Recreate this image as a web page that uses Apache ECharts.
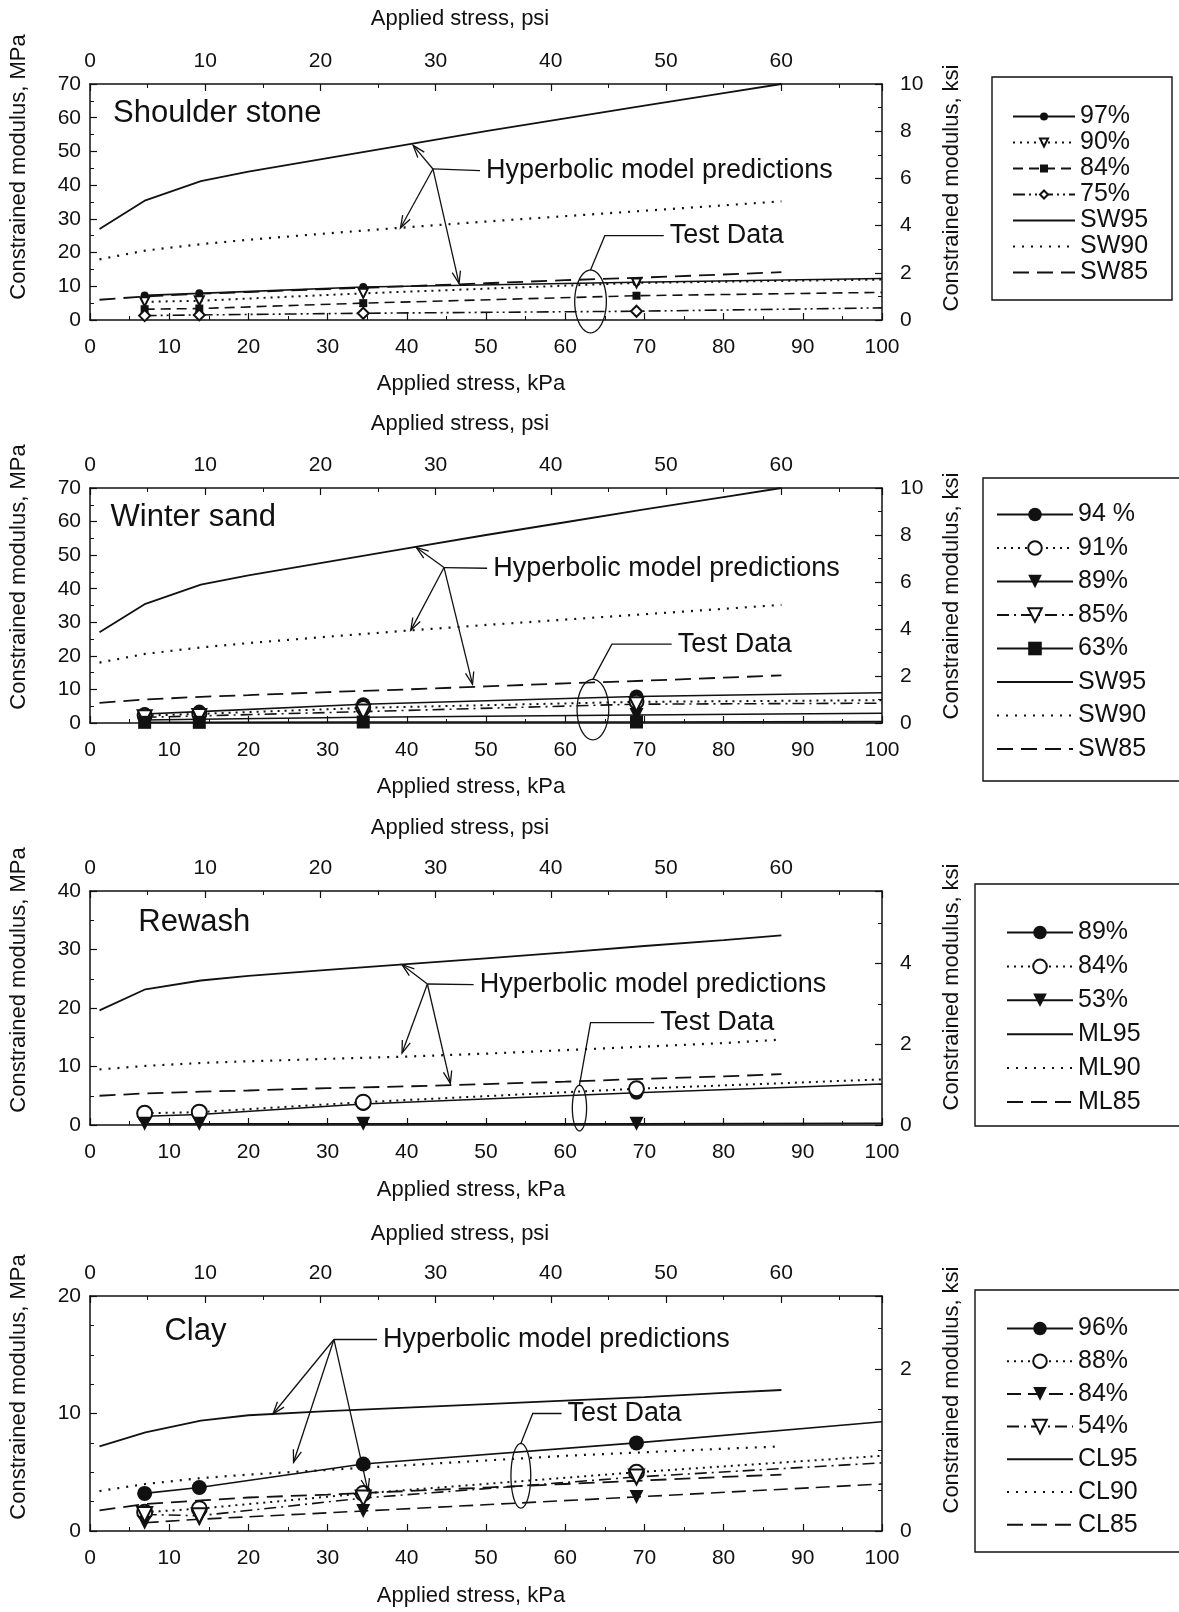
<!DOCTYPE html>
<html><head><meta charset="utf-8">
<script src="https://cdn.jsdelivr.net/npm/echarts@6/dist/echarts.min.js"></script>
<style>html,body{margin:0;padding:0;background:#fff}#c{width:1179px;height:1612px}</style>
</head><body><div id="c"></div>
<script>
// ---------------- DATA ----------------
const testX = [6.9, 13.8, 34.5, 69, 100];           // applied stress, kPa (last = end of drawn trend line)
const modelX = [1.2, 7, 14, 20, 30, 40, 50, 60, 70, 80, 87.3];

// Panel 1 – Shoulder stone
const ss97 = [7.3, 7.9, 9.8, 11.2, 12.3];
const ss90 = [5.4, 5.7, 7.9, 11.0, 12.0];
const ss84 = [3.2, 3.4, 5.0, 7.2, 8.2];
const ss75 = [1.3, 1.5, 2.0, 2.6, 3.6];
const SW95 = [27, 35.5, 41.2, 44, 48, 52, 56, 59.8, 63.6, 67.3, 70];
const SW90 = [18, 20.6, 22.5, 23.8, 25.7, 27.5, 29.2, 30.8, 32.4, 34, 35.2];
const SW85 = [6, 7, 7.8, 8.3, 9.2, 10, 10.9, 11.8, 12.6, 13.5, 14.2];
// Panel 2 – Winter sand
const ws94 = [2.7, 3.4, 5.6, 7.9, 9.0];
const ws91 = [2.2, 2.7, 4.5, 6.3, 6.8];
const ws89 = [0.9, 1.1, 1.7, 2.4, 2.9];
const ws85 = [1.7, 2.1, 3.4, 5.6, 5.9];
const ws63 = [0.2, 0.2, 0.3, 0.3, 0.4];
// Panel 3 – Rewash
const rw89 = [1.5, 1.8, 3.6, 5.5, 7.0];
const rw84 = [2.0, 2.2, 3.9, 6.2, 7.8];
const rw53 = [0.2, 0.2, 0.2, 0.2, 0.3];
const ML95 = [19.6, 23.2, 24.7, 25.5, 26.5, 27.5, 28.5, 29.5, 30.6, 31.6, 32.4];
const ML90 = [9.5, 10.1, 10.6, 10.9, 11.3, 11.7, 12.2, 12.8, 13.4, 14, 14.6];
const ML85 = [5.0, 5.4, 5.7, 5.9, 6.3, 6.6, 7.0, 7.4, 7.9, 8.3, 8.7];
// Panel 4 – Clay
const cl96 = [3.2, 3.7, 5.7, 7.5, 9.3];
const cl88 = [1.6, 1.9, 3.2, 5.0, 6.4];
const cl84 = [0.7, 1.0, 1.7, 2.9, 4.0];
const cl54 = [1.4, 1.3, 2.8, 4.6, 5.8];
const CL95 = [7.2, 8.4, 9.4, 9.85, 10.2, 10.5, 10.8, 11.1, 11.4, 11.75, 12.0];
const CL90 = [3.4, 4.0, 4.5, 4.8, 5.2, 5.6, 6.0, 6.4, 6.7, 7.0, 7.2];
const CL85 = [1.75, 2.3, 2.6, 2.85, 3.1, 3.4, 3.7, 4.0, 4.3, 4.6, 4.8];

// tick labels
const kPaTicks = [0, 10, 20, 30, 40, 50, 60, 70, 80, 90, 100];
const psiTicks = [0, 10, 20, 30, 40, 50, 60];
const psiMax = 68.75;
const mpaTicks = [[0,10,20,30,40,50,60,70],[0,10,20,30,40,50,60,70],[0,10,20,30,40],[0,10,20]];
const ksiTicks = [[0,2,4,6,8,10],[0,2,4,6,8,10],[0,2,4],[0,2]];
const ksiMax = [10, 10, 5.8, 2.9];

// annotations (data coordinates: kPa, MPa)
const panelTitles = [['Shoulder stone', 2.9, 61.3], ['Winter sand', 2.6, 61.1], ['Rewash', 6.1, 34.7], ['Clay', 9.4, 17.0]];
const hypNotes = [
  {text:[50.0, 44.3], from:[43.3, 44.8], to:[[40.8, 51.8], [39.2, 27.3], [46.6, 10.8]]},
  {text:[50.9, 46.1], from:[44.7, 46.3], to:[[41.2, 52.3], [40.5, 27.6], [48.3, 11.5]]},
  {text:[49.2, 24.0], from:[42.6, 24.1], to:[[39.4, 27.4], [39.4, 12.3], [45.5, 7.1]]},
  {text:[37.0, 16.3], from:[30.8, 16.3], to:[[23.1, 9.96], [25.7, 5.85], [35.1, 3.4]]}
];
const testNotes = [
  {text:[73.2, 25.0], bend:[65.0, 25.0], ellipse:[63.2, 5.5, 2.0, 9.3]},
  {text:[74.2, 23.5], bend:[65.9, 23.5], ellipse:[63.5, 4.0, 2.0, 9.0]},
  {text:[72.0, 17.5], bend:[63.2, 17.5], ellipse:[61.8, 2.9, 0.9, 3.9]},
  {text:[60.3, 10.0], bend:[55.9, 10.0], ellipse:[54.4, 4.7, 1.25, 2.75]}
];

// ---------------- STYLE / LAYOUT ----------------
const FONT = '"Liberation Sans", Arial, Helvetica, sans-serif';
const INK = '#111';
const DASH = [16, 8];
const DASH_S = [10, 6];
const DDOT = [12, 4, 2, 4, 2, 4];
const DDOT1 = [12, 5, 2, 5];
const gridTops = [84, 488, 891, 1296];
const gridH = [236, 235, 234, 235];
const GL = 90, GR = 297;

const chart = echarts.init(document.getElementById('c'), null, {renderer: 'canvas'});

const grids = [], xAxes = [], yAxes = [], series = [], legends = [];
const lbl = {color: INK, fontSize: 21, fontFamily: FONT};
const axLine = {show: true, onZero: false, lineStyle: {color: INK, width: 1.5}};
function ticks(len) { return {show: true, inside: true, length: len, lineStyle: {color: INK, width: 1.2}}; }
function minor(n) { return {show: true, splitNumber: n, length: 4, lineStyle: {color: INK, width: 1}}; }

for (let g = 0; g < 4; g++) {
  grids.push({left: GL, right: GR, top: gridTops[g], height: gridH[g], containLabel: false});
  xAxes.push({gridIndex: g, type: 'value', position: 'bottom', min: kPaTicks[0], max: kPaTicks[kPaTicks.length-1],
    interval: kPaTicks[1]-kPaTicks[0], axisLine: axLine, axisTick: ticks(7),
    minorTick: minor(2), splitLine: {show: false}, axisLabel: Object.assign({margin: 17}, lbl)});
  xAxes.push({gridIndex: g, type: 'value', position: 'top', min: psiTicks[0], max: psiMax,
    interval: psiTicks[1]-psiTicks[0], axisLine: axLine, axisTick: ticks(7),
    minorTick: minor(2), splitLine: {show: false}, axisLabel: Object.assign({margin: 12, showMaxLabel: false}, lbl)});
  const mt = mpaTicks[g];
  yAxes.push({gridIndex: g, type: 'value', position: 'left', min: mt[0], max: mt[mt.length-1], interval: mt[1]-mt[0],
    axisLine: axLine, axisTick: ticks(7),
    minorTick: minor(g === 3 ? 4 : 2), splitLine: {show: false}, axisLabel: Object.assign({margin: 9}, lbl)});
  const kt = ksiTicks[g];
  yAxes.push({gridIndex: g, type: 'value', position: 'right', min: kt[0], max: ksiMax[g], interval: kt[1]-kt[0],
    axisLine: axLine, axisTick: ticks(7),
    minorTick: minor(g === 3 ? 4 : 2), splitLine: {show: false},
    axisLabel: Object.assign({margin: 18, showMaxLabel: g < 2}, lbl)});
}

function testSeries(g, name, vals, s) {
  return {
    type: 'line', name, xAxisIndex: 2*g, yAxisIndex: 2*g, z: 4, clip: false, silent: true,
    symbol: s.symbol, symbolSize: s.size, symbolRotate: s.rotate || 0, showSymbol: true,
    lineStyle: {color: INK, width: s.lw || 1.6, type: s.dash || 'solid'},
    itemStyle: {color: INK, borderWidth: s.symbol.indexOf('empty') === 0 ? 1.6 : 0, borderColor: INK},
    emphasis: {disabled: true},
    data: vals.map((v, i) => i === vals.length - 1 ? {value: [testX[i], v], symbol: 'none'} : [testX[i], v])
  };
}
function modelSeries(g, name, vals, dash, lw) {
  return {
    type: 'line', name, xAxisIndex: 2*g, yAxisIndex: 2*g, z: 3, silent: true,
    symbol: 'none', showSymbol: false,
    lineStyle: {color: INK, width: lw, type: dash},
    itemStyle: {color: INK}, emphasis: {disabled: true},
    data: vals.map((v, i) => [modelX[i], v])
  };
}

const panels = [
  {tests: [['97%', ss97, {symbol: 'circle', size: 8}],
           ['90%', ss90, {symbol: 'emptyTriangle', size: 9, rotate: 180, dash: [2, 5], lw: 2}],
           ['84%', ss84, {symbol: 'rect', size: 8, dash: DASH_S}],
           ['75%', ss75, {symbol: 'emptyDiamond', size: 11, dash: DDOT}]],
   models: [['SW95', SW95], ['SW90', SW90], ['SW85', SW85]]},
  {tests: [['94 %', ws94, {symbol: 'circle', size: 14}],
           ['91%', ws91, {symbol: 'emptyCircle', size: 14, dash: [2, 5], lw: 2}],
           ['89% ', ws89, {symbol: 'triangle', size: 14, rotate: 180}],
           ['85%', ws85, {symbol: 'emptyTriangle', size: 14, rotate: 180, dash: DDOT1}],
           ['63%', ws63, {symbol: 'rect', size: 13}]],
   models: [['SW95 ', SW95], ['SW90 ', SW90], ['SW85 ', SW85]]},
  {tests: [['89%', rw89, {symbol: 'circle', size: 14}],
           ['84% ', rw84, {symbol: 'emptyCircle', size: 15, dash: [2, 5], lw: 2}],
           ['53%', rw53, {symbol: 'triangle', size: 14, rotate: 180}]],
   models: [['ML95', ML95], ['ML90', ML90], ['ML85', ML85]]},
  {tests: [['96%', cl96, {symbol: 'circle', size: 15}],
           ['88%', cl88, {symbol: 'emptyCircle', size: 15, dash: [2, 5], lw: 2}],
           ['84%  ', cl84, {symbol: 'triangle', size: 14, rotate: 180, dash: [14, 7]}],
           ['54%', cl54, {symbol: 'emptyTriangle', size: 15, rotate: 180, dash: DDOT1}]],
   models: [['CL95', CL95], ['CL90', CL90], ['CL85', CL85]]}
];
const modelStyles = [['solid', 1.8], [[2, 7], 2.2], [DASH, 1.8]];

const legendLayout = [
  {left: 1012, top: 104, itemWidth: 62, itemHeight: 10, itemGap: 1.0},
  {left: 996, top: 502, itemWidth: 76, itemHeight: 17, itemGap: 8.5},
  {left: 1006, top: 920, itemWidth: 66, itemHeight: 17, itemGap: 8.9},
  {left: 1006, top: 1316, itemWidth: 66, itemHeight: 17, itemGap: 7.7}
];

function arrowHead(p, q, len) { // open V arrowhead at q, line from p
  const a = Math.atan2(q[1]-p[1], q[0]-p[0]);
  const s = 0.33;
  return [[q[0]-len*Math.cos(a-s), q[1]-len*Math.sin(a-s)], q, [q[0]-len*Math.cos(a+s), q[1]-len*Math.sin(a+s)]];
}

function noteSeries(g) {
  return {
    type: 'custom', xAxisIndex: 2*g, yAxisIndex: 2*g, z: 6, clip: false, silent: true,
    data: [[0, 0]],
    renderItem: function (params, api) {
      const c = p => api.coord(p);
      const kids = [];
      const st = {stroke: INK, fill: null, lineWidth: 1.3};
      const txt = (x, y, s, size) => ({type: 'text', x: x, y: y, style: {text: s, fill: INK, fontSize: size,
        fontFamily: FONT, align: 'left', verticalAlign: 'middle', textAlign: 'left', textVerticalAlign: 'middle'}});
      const t = panelTitles[g];
      const tp = c([t[1], t[2]]);
      kids.push(txt(tp[0], tp[1], t[0], 31));
      const h = hypNotes[g];
      const hf = c(h.from), ht = c(h.text);
      kids.push({type: 'polyline', shape: {points: [hf, [ht[0]-6, ht[1]]]}, style: st});
      h.to.forEach(pt => {
        const q = c(pt);
        kids.push({type: 'polyline', shape: {points: [hf, q]}, style: st});
        kids.push({type: 'polyline', shape: {points: arrowHead(hf, q, 13)}, style: st});
      });
      kids.push(txt(ht[0], ht[1], 'Hyperbolic model predictions', 27));
      const tn = testNotes[g];
      const e = tn.ellipse;
      const ec = c([e[0], e[1]]);
      const rx = Math.abs(c([e[0]+e[2], e[1]])[0] - ec[0]);
      const ry = Math.abs(c([e[0], e[1]+e[3]])[1] - ec[1]);
      const pts = [];
      for (let i = 0; i < 72; i++) { const a = i/72*2*Math.PI; pts.push([ec[0]+rx*Math.cos(a), ec[1]+ry*Math.sin(a)]); }
      kids.push({type: 'polygon', shape: {points: pts}, style: st});
      const tt = c(tn.text), tb = c(tn.bend);
      kids.push({type: 'polyline', shape: {points: [[ec[0], ec[1]-ry], tb, [tt[0]-6, tt[1]]]}, style: st});
      kids.push(txt(tt[0], tt[1], 'Test Data', 27));
      return {type: 'group', children: kids};
    }
  };
}

panels.forEach((p, g) => {
  const names = [];
  p.tests.forEach(t => { series.push(testSeries(g, t[0], t[1], t[2])); names.push({name: t[0]}); });
  p.models.forEach((m, i) => {
    series.push(modelSeries(g, m[0], m[1], modelStyles[i][0], modelStyles[i][1]));
    names.push({name: m[0], itemStyle: {opacity: 0}});
  });
  series.push(noteSeries(g));
  const L = legendLayout[g];
  legends.push({orient: 'vertical', left: L.left, top: L.top, padding: 0, itemWidth: L.itemWidth, itemHeight: L.itemHeight,
    itemGap: L.itemGap, selectedMode: false, data: names, itemStyle: {borderWidth: 0},
    textStyle: {color: INK, fontSize: 25, lineHeight: 24, fontFamily: FONT}});
});

// axis names and legend frames
const nameFont = {fill: INK, fontSize: 22, fontFamily: FONT, textAlign: 'center', textVerticalAlign: 'middle'};
const nameCenters = [
  {top: 18.5, bottom: 384, left: 167, right: 188},
  {top: 423.5, bottom: 787, left: 577, right: 596},
  {top: 827.5, bottom: 1190, left: 980, right: 987},
  {top: 1233.5, bottom: 1596, left: 1387, right: 1390}
];
const legendBoxes = [[992, 77, 180, 223], [983, 478, 210, 303], [975, 884, 218, 242], [975, 1290, 218, 262]];
const graphics = [];
nameCenters.forEach(n => {
  graphics.push({type: 'text', x: 460, y: n.top, style: Object.assign({text: 'Applied stress, psi'}, nameFont)});
  graphics.push({type: 'text', x: 471, y: n.bottom, style: Object.assign({text: 'Applied stress, kPa'}, nameFont)});
  graphics.push({type: 'text', x: 19, y: n.left, rotation: Math.PI/2, style: Object.assign({text: 'Constrained modulus, MPa'}, nameFont)});
  graphics.push({type: 'text', x: 952, y: n.right, rotation: Math.PI/2, style: Object.assign({text: 'Constrained modulus, ksi'}, nameFont)});
});
legendBoxes.forEach(b => graphics.push({type: 'rect', shape: {x: b[0], y: b[1], width: b[2], height: b[3]},
  style: {fill: null, stroke: INK, lineWidth: 1.4}}));

chart.setOption({
  animation: false,
  backgroundColor: '#fff',
  grid: grids, xAxis: xAxes, yAxis: yAxes, series: series, legend: legends,
  graphic: graphics
});
</script></body></html>
